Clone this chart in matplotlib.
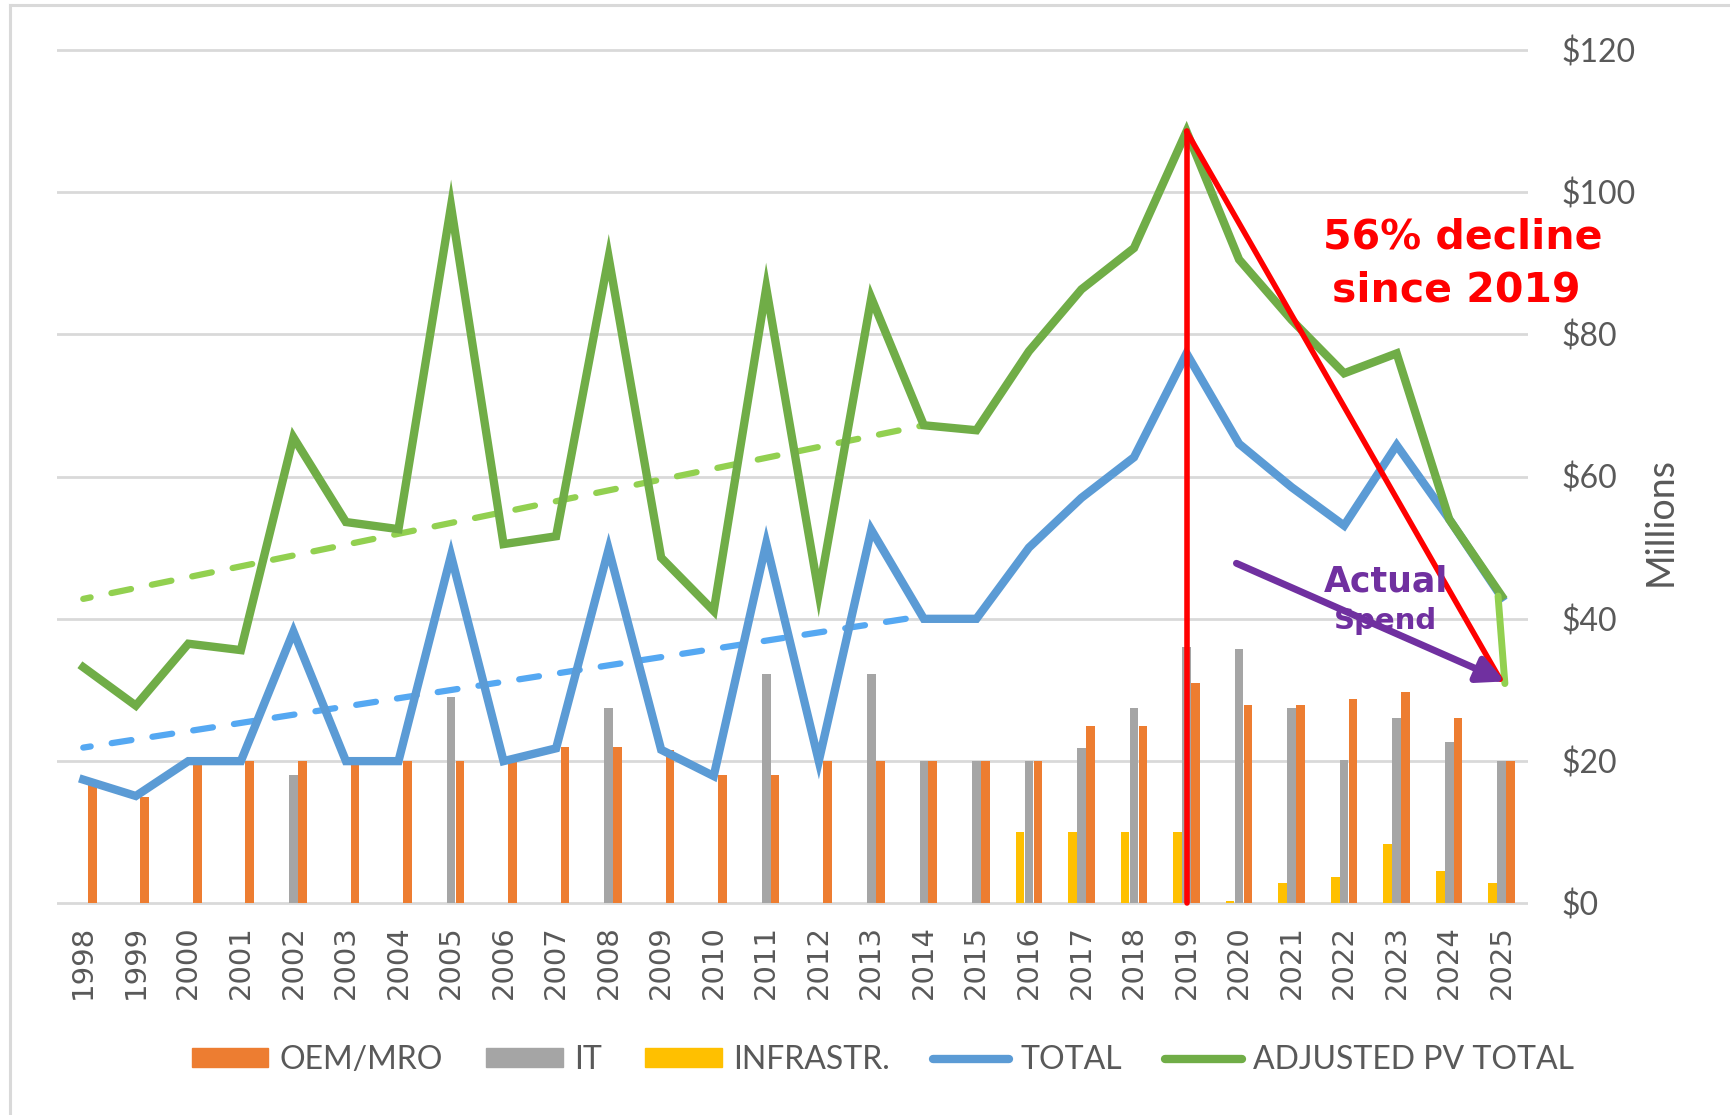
import numpy as np
import matplotlib

matplotlib.use("Agg")
import matplotlib.pyplot as plt
from matplotlib import font_manager
from matplotlib.lines import Line2D
from matplotlib.patches import FancyArrowPatch, Patch

# ---------------------------------------------------------------------------
# data (values in $ millions)
# ---------------------------------------------------------------------------
years = list(range(1998, 2026))
oem_mro = [17, 15, 20, 20, 20, 20, 20, 20, 20, 22, 22, 21.5, 18, 18,
           20, 20, 20, 20, 20, 25, 25, 31, 27.9, 27.9, 28.7, 29.7, 26, 20]
it = [0, 0, 0, 0, 18, 0, 0, 29, 0, 0, 27.5, 0, 0, 32.2,
      0, 32.2, 20, 20, 20, 21.9, 27.4, 36, 35.7, 27.4, 20.2, 26, 22.7, 20]
infrastr = [0, 0, 0, 0, 0, 0, 0, 0, 0, 0, 0, 0, 0, 0,
            0, 0, 0, 0, 10, 10, 10, 10, 0.4, 2.9, 3.7, 8.3, 4.5, 2.9]
total = [17.4, 15.1, 20, 20, 38.2, 20, 20, 48.9, 20, 21.8, 49.8, 21.6, 17.9, 50.6,
         20, 52.5, 40, 40, 50, 57, 62.7, 77.3, 64.6, 58.5, 53.1, 64.4, 54, 43]
adjusted_pv = [33.2, 27.8, 36.5, 35.6, 65.5, 53.6, 52.6, 98, 50.5, 51.6, 90.8, 48.6, 41.1, 86.5,
               43.6, 85.1, 67.2, 66.5, 77.6, 86.3, 92.1, 108.5, 90.5, 82, 74.5, 77.3, 54, 43.2]

# trendlines drawn on the chart (1998 -> 2014)
trend_years = [1998, 2014]
pv_trend = [42.8, 67.2]
total_trend = [21.9, 40.4]

# annotations
decline_from = (2019, 108.5)
decline_to = (2025, 31.5)
pv_drop = [43.2, 30.9]                       # light green drop at 2025
spend_arrow = ((2019.95, 47.8), (2025.06, 31.2))
y_ticks = [0, 20, 40, 60, 80, 100, 120]

ORANGE, GRAY, YELLOW = "#ED7D31", "#A5A5A5", "#FFC000"
BLUE, GREEN = "#5B9BD5", "#70AD47"
LIGHT_GREEN, LIGHT_BLUE = "#92D050", "#55A8F2"
RED, PURPLE, TXT = "#FF0000", "#7030A0", "#595959"

installed = {f.name for f in font_manager.fontManager.ttflist}
narrow = "Liberation Sans Narrow" if "Liberation Sans Narrow" in installed else "Lato"
legend_size = 25 if narrow == "Liberation Sans Narrow" else 23

W, H = 1731, 1115
fig = plt.figure(figsize=(W / 100, H / 100), dpi=100)
ax = fig.add_axes([57 / W, 1 - 907 / H, (1528 - 57) / W, (907 - 46) / H])


def xpos(yr):
    return years.index(yr) if float(yr).is_integer() else yr - years[0]


x = np.arange(len(years))
w = 0.165
ax.bar(x - 0.17, infrastr, width=w, color=YELLOW, zorder=2)
ax.bar(x, it, width=w, color=GRAY, zorder=2)
ax.bar(x + 0.17, oem_mro, width=w, color=ORANGE, zorder=2)

tx = [xpos(y) for y in trend_years]
ax.plot(tx, pv_trend, color=LIGHT_GREEN, lw=4.5, ls=(2, (3.2, 3.4)),
        dash_capstyle="round", zorder=3)
ax.plot(tx, total_trend, color=LIGHT_BLUE, lw=4.5, ls=(2, (3.2, 3.4)),
        dash_capstyle="round", zorder=3)

ax.plot(x, total, color=BLUE, lw=6, solid_joinstyle="miter", zorder=4)
ax.plot(x, adjusted_pv, color=GREEN, lw=6, solid_joinstyle="miter", zorder=5)
ax.plot([xpos(2025) - 0.07, xpos(2025) + 0.06], pv_drop, color=LIGHT_GREEN, lw=5,
        solid_capstyle="round", zorder=6)

# red decline lines
x19, x25 = xpos(decline_from[0]), xpos(decline_to[0])
ax.plot([x19, x19], [decline_from[1], 0], color=RED, lw=4,
        solid_capstyle="round", zorder=7)
ax.plot([x19, x25 - 0.03], [decline_from[1], decline_to[1]], color=RED, lw=4,
        solid_capstyle="round", zorder=7)

(sx, sy), (ex, ey) = spend_arrow
ax.add_patch(FancyArrowPatch((sx - years[0], sy), (ex - years[0], ey),
                             arrowstyle="-|>,head_length=0.8,head_width=0.4",
                             mutation_scale=20, color=PURPLE, lw=5,
                             capstyle="round", shrinkA=0, shrinkB=0, zorder=9))

ax.text(26.25, 92.0, "56% decline", color=RED, fontsize=29.5, fontweight="bold",
        ha="center", va="baseline", zorder=10)
ax.text(26.13, 84.6, "since 2019", color=RED, fontsize=29.5, fontweight="bold",
        ha="center", va="baseline", zorder=10)
ax.text(24.8, 43.8, "Actual", color=PURPLE, fontsize=25, fontweight="bold",
        ha="center", va="baseline", zorder=8)
ax.text(24.78, 38.6, "Spend", color=PURPLE, fontsize=21, fontweight="bold",
        ha="center", va="baseline", zorder=8)

ax.set_xlim(-0.5, len(years) - 0.5)
ax.set_ylim(-0.5, 120.5)
ax.set_xticks(x)
ax.set_xticklabels([str(y) for y in years], rotation=90, fontsize=21, color=TXT)
ax.yaxis.tick_right()
ax.set_yticks(y_ticks)
ax.set_yticklabels([f"${v}" for v in y_ticks], fontsize=23, color=TXT, family="Lato")
ax.tick_params(axis="x", length=0, pad=13)
ax.tick_params(axis="y", length=0, pad=24)
ax.yaxis.grid(True, color="#D9D9D9", lw=2)
ax.set_axisbelow(True)
for sp in ax.spines.values():
    sp.set_visible(False)

fig.text(1661 / W, 1 - 521 / H, "Millions", rotation=90, ha="center", va="center",
         fontsize=27, color=TXT, family="Lato")

handles = [Patch(color=ORANGE), Patch(color=GRAY), Patch(color=YELLOW),
           Line2D([], [], color=BLUE, lw=6, solid_capstyle="round"),
           Line2D([], [], color=GREEN, lw=6, solid_capstyle="round")]
labels = ["OEM/MRO", "IT", "INFRASTR.", "TOTAL", "ADJUSTED PV TOTAL"]
fig.legend(handles, labels, loc="center", bbox_to_anchor=(883 / W, 1 - 1060 / H),
           ncol=5, frameon=False, handlelength=2.4, handleheight=0.55,
           handletextpad=0.35, columnspacing=1.35, labelcolor=TXT,
           prop={"family": narrow, "size": legend_size})

# chart-area border (left and top edges visible)
fig.add_artist(Line2D([10 / W, 10 / W], [0, 1 - 5 / H], color="#D9D9D9", lw=2.2,
                      transform=fig.transFigure))
fig.add_artist(Line2D([10 / W, 1], [1 - 5 / H, 1 - 5 / H], color="#D9D9D9", lw=2.2,
                      transform=fig.transFigure))

fig.savefig("out.png", dpi=100)
plt.close(fig)
